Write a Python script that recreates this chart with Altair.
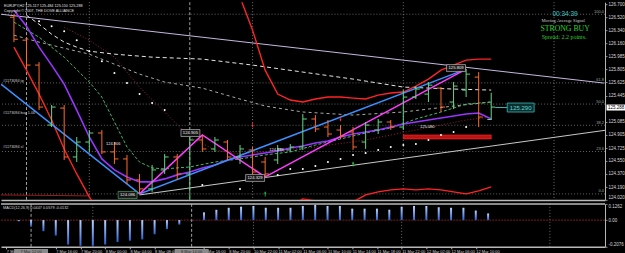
import altair as alt
import pandas as pd

# ---------------- data ----------------
bar_k = list(range(39))
bar_open = [126.521, 126.206, 125.864, 125.041, 125.274, 124.603, 124.808, 124.932, 124.672, 124.576,
            124.288, 124.165, 124.425, 124.603, 124.370, 124.836, 124.713, 124.808, 124.603, 124.699,
            124.534, 124.562, 124.699, 124.740, 125.124, 125.014, 124.973, 124.946, 124.808, 124.973,
            125.083, 125.014, 125.425, 125.466, 125.548, 125.357, 125.521, 125.699, 125.117]
bar_high = [126.562, 126.247, 125.905, 125.316, 125.316, 124.877, 124.973, 124.973, 124.808, 124.631,
            124.370, 124.493, 124.644, 124.644, 124.877, 124.905, 124.877, 124.836, 124.767, 124.740,
            124.603, 124.767, 124.781, 125.192, 125.178, 125.110, 125.041, 125.014, 125.083, 125.124,
            125.110, 125.521, 125.576, 125.631, 125.562, 125.631, 125.809, 125.768, 125.484]
bar_low = [126.179, 125.836, 125.247, 125.014, 124.562, 124.534, 124.672, 124.644, 124.507, 124.233,
           124.096, 124.124, 124.370, 124.288, 124.124, 124.672, 124.672, 124.562, 124.507, 124.357,
           124.329, 124.507, 124.672, 124.699, 124.946, 124.877, 124.850, 124.699, 124.713, 124.918,
           124.973, 124.973, 125.398, 125.357, 125.220, 125.261, 125.425, 125.014, 125.110]
bar_close = [126.220, 125.864, 125.288, 125.288, 124.603, 124.808, 124.932, 124.672, 124.576, 124.288,
             124.165, 124.425, 124.603, 124.370, 124.836, 124.713, 124.836, 124.603, 124.713, 124.397,
             124.370, 124.713, 124.740, 125.124, 124.987, 124.918, 124.891, 124.740, 125.041, 125.083,
             125.014, 125.425, 125.535, 125.589, 125.288, 125.576, 125.740, 125.151, 125.288]

macd_hist = [-0.010, -0.045, -0.086, -0.120, -0.190, -0.200, -0.200, -0.190, -0.170, -0.160,
             -0.150, -0.110, -0.070, -0.035, -0.005, 0.060, 0.080, 0.096, 0.104, 0.110,
             0.096, 0.096, 0.096, 0.110, 0.118, 0.110, 0.110, 0.089, 0.089, 0.089,
             0.081, 0.104, 0.110, 0.110, 0.100, 0.096, 0.096, 0.074, 0.052]

purple_ma = [126.617, 126.398, 126.110, 125.864, 125.603, 125.247, 124.877, 124.576, 124.425, 124.329,
             124.261, 124.261, 124.302, 124.357, 124.397, 124.452, 124.493, 124.562, 124.603, 124.631,
             124.658, 124.685, 124.726, 124.754, 124.795, 124.822, 124.877, 124.918, 124.946, 124.973,
             125.014, 125.055, 125.083, 125.110, 125.138, 125.165, 125.192, 125.206, 125.124]

white_ma_k = [1, 2, 3, 4, 5, 6, 8, 11, 15, 19, 23, 27, 31, 35, 38]
white_ma = [126.548, 126.425, 126.288, 126.179, 126.110, 126.055, 126.014, 125.973, 125.946, 125.864,
            125.768, 125.672, 125.562, 125.535, 125.521]

gray_ma_k = [0, 2, 4, 6, 8, 10, 12, 15, 18, 20, 23, 27, 31, 35, 38]
gray_ma = [126.274, 126.179, 126.096, 126.014, 125.877, 125.740, 125.631, 125.548, 125.398, 125.302,
           125.220, 125.178, 125.220, 125.302, 125.357]

green_ma_k = [0, 2, 4, 6, 7, 8, 9, 10, 11, 12, 14, 16, 18, 20, 22, 24, 26, 28, 30, 32, 34, 36, 38]
green_ma = [126.453, 126.247, 125.973, 125.631, 125.425, 125.083, 124.740, 124.534, 124.452, 124.439,
            124.466, 124.534, 124.576, 124.631, 124.672, 124.767, 124.850, 124.932, 125.000, 125.124,
            125.220, 125.330, 125.357]

darkred_ma_k = [4, 6, 8, 10, 12, 14, 16, 18, 20, 24, 28, 32, 36, 38]
darkred_ma = [126.384, 126.206, 125.973, 125.562, 125.220, 124.877, 124.699, 124.644, 124.672, 124.740,
              124.836, 124.973, 125.110, 125.151]

upper_band_k = list(range(17, 39))
upper_band = [127.275, 126.795, 126.343, 125.795, 125.466, 125.384, 125.357, 125.398, 125.425, 125.425,
              125.411, 125.398, 125.452, 125.480, 125.494, 125.576, 125.672, 125.795, 125.864, 125.932,
              125.946, 125.946]

lower_band_k = [0, 1, 2, 3, 4, 5, 6, 7, 10, 14, 18, 21, 22, 23, 24, 25, 26, 27, 28, 29, 30, 31, 32, 33,
                34, 35, 36, 37, 38]
lower_band = [126.110, 125.795, 125.466, 125.110, 124.713, 124.370, 124.055, 123.782, 123.371, 123.439,
              123.603, 123.782, 123.918, 124.028, 124.000, 123.945, 123.932, 123.987, 124.082, 124.124,
              124.151, 124.165, 124.151, 124.165, 124.151, 124.124, 124.096, 124.137, 124.192]

base_line_k = [-1.03, 6]
base_line = [124.082, 124.069]

sar_k = [2, 3, 4, 5, 6, 7, 8, 9, 10, 11, 12, 15, 18, 21, 22, 23, 24, 25, 26, 27, 28, 29, 30, 31, 32,
         33, 34, 35, 36]
sar = [126.466, 126.398, 126.329, 126.206, 126.055, 125.918, 125.754, 125.617, 125.466, 125.343,
       125.247, 124.219, 124.165, 124.357, 124.439, 124.439, 124.480, 124.534, 124.576, 124.631,
       124.658, 124.699, 124.740, 124.767, 124.781, 124.836, 124.905, 124.946, 125.014]

lav_k, lav_p = [-1.03, 46.98], [126.562, 125.617]
supp_k, supp_p = [10, 47.06], [124.082, 124.969]
blue_k, blue_p = [-1.03, 10, 36], [125.603, 124.096, 125.809]
zig_k, zig_p = [10, 15, 20, 36], [124.096, 124.905, 124.329, 125.809]

fib_labels = ["0.0", "23.6", "38.2", "50.0", "61.8", "100.0"]
fib_p = [124.096, 124.678, 125.038, 125.329, 125.620, 126.562]

order_labels = ["#1173094 tp", "#1173094 buy 1.00", "#1173094 sl"]
order_p = [125.617, 125.178, 124.699]

up_k, up_p = [14, 20, 27], [124.055, 124.096, 124.507]
dn_k, dn_p = [19, 26], [125.041, 125.124]

zone_k1, zone_k2, zone_p1, zone_p2 = [31], [38], [124.905], [124.850]

zl_k = [9.05, 14.05, 19.2, 35.2]
zl_p = [124.082, 124.932, 124.315, 125.823]
zl_text = ["124.096", "124.905", "124.329", "125.809"]
zl_edge = ["#58c070", "#d0d0d0", "#d0d0d0", "#d0d0d0"]

note_k = [7.9, 20.9, 32.9]
note_p = [124.781, 124.699, 125.014]
note_text = ["124.906", "124.838", "125.080"]

grid_k = [6, 19, 31, 43]
vline_k = [1, 14]
vline_labels = ["7 Mar 12:00", "8 Mar 14:00"]

y_ticks = [126.700, 126.520, 126.340, 126.160, 125.985, 125.805, 125.625, 125.445, 125.085,
           124.905, 124.725, 124.550, 124.370, 124.190, 124.020]
macd_ticks = [-0.2076, 0, 0.1262]

time_tick_k = [-1, 3, 5, 7, 9, 11, 15, 17, 19, 21, 23, 25, 27, 29, 31, 33, 35, 37]
time_tick_labels = ["7 Mar", "7 Mar 16:00", "7 Mar 20:00", "8 Mar 00:00", "8 Mar 04:00",
                    "8 Mar 08:00", "8 Mar 16:00", "8 Mar 20:00", "10 Mar 22:00", "11 Mar 02:00",
                    "11 Mar 06:00", "11 Mar 10:00", "11 Mar 14:00", "11 Mar 18:00", "11 Mar 22:00",
                    "12 Mar 02:00", "12 Mar 06:00", "12 Mar 10:00"]

title_text = "EURJPY,H2  125.117 125.484 125.110 125.288"
copyright_text = "Copyright \u00a9 2007, THE DOVE ALLIANCE"
signal_lines = ["00:34:39", "Moving Average Signal", "STRONG BUY", "Spread: 2.2 points."]
macd_label = "MACD(12,26,9) 0.0447 0.0579 -0.0132"
price_box_text = "125.290"
bid_text = "125.288"

# ---------------- styles ----------------
GREEN = "#62d886"
ORANGE = "#ff6a2c"
W = 605
H_MAIN = 198
H_MACD = 43

x_scale = alt.Scale(domain=[-1.03, 47.06], nice=False, zero=False)
y_scale = alt.Scale(domain=[124.014, 126.727], nice=False, zero=False)
x_axis_main = alt.Axis(labels=False, ticks=False, domain=True, grid=False,
                       domainColor="#b8b8b8", domainWidth=1.5)
y_axis_main = alt.Axis(orient="right", values=y_ticks, format=".3f", labelFontSize=4.5,
                       tickSize=2, labelPadding=1, grid=False, labelFlush=True,
                       domainColor="#b8b8b8", labelColor="#d8d8d8")


def X(f="k"):
    return alt.X(f"{f}:Q", scale=x_scale, axis=x_axis_main, title=None)


def Y(f="p"):
    return alt.Y(f"{f}:Q", scale=y_scale, axis=y_axis_main, title=None)


def line_layer(ks, ps, color, width=1.0, dash=None):
    df = pd.DataFrame({"k": ks, "p": ps})
    kw = dict(color=color, strokeWidth=width, clip=True)
    if dash:
        kw["strokeDash"] = dash
    return alt.Chart(df).mark_line(**kw).encode(x=X(), y=Y())


def ptext(s, x, y, size, color, font="Liberation Sans", align="left", weight="normal"):
    return alt.Chart(pd.DataFrame({"t": [s]})).mark_text(
        x=x, y=y, fontSize=size, color=color, font=font, align=align,
        baseline="middle", fontWeight=weight).encode(text="t:N")


# ---------------- main price panel ----------------
fib_df = pd.DataFrame({"p": fib_p, "label": fib_labels})
fib_rules = alt.Chart(fib_df).mark_rule(color="#7c7c7c", strokeDash=[1, 2], strokeWidth=0.8).encode(y=Y())
fib_text = alt.Chart(fib_df).mark_text(align="right", baseline="bottom", fontSize=4, color="#9aaa9a",
                                       dy=-0.5).encode(x=alt.value(604), y=Y(), text="label:N")

grid_df = pd.DataFrame({"k": grid_k})
vl_df = pd.DataFrame({"k": vline_k, "label": vline_labels})
grid_rules = alt.Chart(grid_df).mark_rule(color="#8c8c8c", strokeDash=[1, 2], strokeWidth=0.8).encode(x=X())
vl_rules = alt.Chart(vl_df).mark_rule(color="#c8c8c8", strokeDash=[3, 2], strokeWidth=0.8).encode(x=X())

order_df = pd.DataFrame({"p": order_p, "label": order_labels})
order_text = alt.Chart(order_df).mark_text(align="left", baseline="bottom", fontSize=3.8,
                                           color="#d0d0d0", dy=-0.5).encode(
    x=alt.value(2), y=Y(), text="label:N")

zone_df = pd.DataFrame({"k1": zone_k1, "k2": zone_k2, "p1": zone_p1, "p2": zone_p2})
zone = alt.Chart(zone_df).mark_rect(fill="#c01010", stroke="#ff3030", strokeWidth=0.6).encode(
    x=X("k1"), x2="k2:Q", y=Y("p1"), y2="p2:Q")

lines = [
    line_layer(lav_k, lav_p, "#c8b8e0", 1.0),
    line_layer(supp_k, supp_p, "#c4ccc4", 1.0),
    line_layer(darkred_ma_k, darkred_ma, "#982424", 1.0, [1, 2]),
    line_layer(white_ma_k, white_ma, "#e6e6e6", 1.0, [4, 3]),
    line_layer(gray_ma_k, gray_ma, "#a8a8a8", 1.0, [3, 3]),
    line_layer(green_ma_k, green_ma, "#46b866", 1.0, [3, 2]),
    line_layer(base_line_k, base_line, "#9a1c1c", 1.0),
    line_layer(upper_band_k, upper_band, "#ff2424", 1.4),
    line_layer(lower_band_k, lower_band, "#ff2424", 1.4),
    line_layer(bar_k, purple_ma, "#9a34ff", 1.6),
    line_layer(blue_k, blue_p, "#3b8fff", 1.5),
    line_layer(zig_k, zig_p, "#ff3cff", 1.5),
]

bar_df = pd.DataFrame({"k": bar_k, "open": bar_open, "high": bar_high, "low": bar_low, "close": bar_close})
bar_color = alt.condition("datum.close >= datum.open", alt.value(GREEN), alt.value(ORANGE))
hl = alt.Chart(bar_df).mark_rule(strokeWidth=1).encode(x=X(), y=Y("low"), y2="high:Q", color=bar_color)
open_t = alt.Chart(bar_df).mark_tick(orient="horizontal", size=4, thickness=1, xOffset=-2, opacity=1).encode(
    x=X(), y=Y("open"), color=bar_color)
close_t = alt.Chart(bar_df).mark_tick(orient="horizontal", size=4, thickness=1, xOffset=2, opacity=1).encode(
    x=X(), y=Y("close"), color=bar_color)

sar_df = pd.DataFrame({"k": sar_k, "p": sar})
sar_pts = alt.Chart(sar_df).mark_circle(size=4, color="#ffffff", opacity=1).encode(x=X(), y=Y())

up_df = pd.DataFrame({"k": up_k, "p": up_p})
dn_df = pd.DataFrame({"k": dn_k, "p": dn_p})
up_pts = alt.Chart(up_df).mark_point(shape="arrow", filled=True, size=28, color="#24d848", opacity=1).encode(
    x=X(), y=Y())
dn_pts = alt.Chart(dn_df).mark_point(shape="arrow", angle=180, filled=True, size=28, color="#ff3030",
                                     opacity=1).encode(x=X(), y=Y())

zl_df = pd.DataFrame({"k": zl_k, "p": zl_p, "t": zl_text, "edge": zl_edge})
zl_box = alt.Chart(zl_df).mark_tick(orient="horizontal", size=19, thickness=7, fill="#161616",
                                    strokeWidth=0.6, opacity=1).encode(
    x=X(), y=Y(), stroke=alt.Stroke("edge:N", scale=None))
zl_txt = alt.Chart(zl_df).mark_text(fontSize=4.2, color="#f0f0f0").encode(x=X(), y=Y(), text="t:N")

note_df = pd.DataFrame({"k": note_k, "p": note_p, "t": note_text})
note_txt = alt.Chart(note_df).mark_text(fontSize=4, color="#e8e8e8").encode(x=X(), y=Y(), text="t:N")

one = pd.DataFrame({"a": [0]})
pbox_line = alt.Chart(one).mark_rule(color="#3ab8b8", strokeWidth=1).encode(
    x=alt.value(495), x2=alt.value(507), y=alt.value(105.5))
pbox = alt.Chart(one).mark_rect(fill="#0c2e2e", stroke="#3ab8b8", strokeWidth=0.8).encode(
    x=alt.value(507), x2=alt.value(534), y=alt.value(101), y2=alt.value(110))
pbox_txt = ptext(price_box_text, 520.5, 105.5, 6, "#5cd6d6", align="center")

bid_box = alt.Chart(one).mark_rect(fill="#ffffff").encode(
    x=alt.value(606.5), x2=alt.value(625), y=alt.value(102.5), y2=alt.value(108.5))
bid_txt = ptext(bid_text, 608, 105.6, 4.5, "#000000")

ui = [
    ptext(title_text, 3, 3.5, 3.8, "#e0e0e0"),
    ptext(copyright_text, 3, 8.5, 3.8, "#e0e0e0"),
    ptext(signal_lines[0], 565, 11.5, 6.5, "#40c8c8", align="center"),
    ptext(signal_lines[1], 563, 18.8, 4.6, "#cfcfcf", font="Liberation Serif", align="center"),
    ptext(signal_lines[2], 565, 26.8, 7.8, "#2ed02e", font="Liberation Serif", align="center"),
    ptext(signal_lines[3], 564, 35.2, 6.0, "#2ed02e", font="Liberation Serif", align="center"),
]

main = alt.layer(
    fib_rules, grid_rules, vl_rules, zone, *lines, hl, open_t, close_t, sar_pts, up_pts, dn_pts,
    zl_box, zl_txt, note_txt, fib_text, order_text, pbox_line, pbox, pbox_txt, bid_box, bid_txt, *ui
).properties(width=W, height=H_MAIN)

# ---------------- MACD panel ----------------
labels_js = "[" + ",".join("'" + s + "'" for s in time_tick_labels) + "]"
ks_js = "[" + ",".join(str(k) for k in time_tick_k) + "]"
x_axis_macd = alt.Axis(values=time_tick_k, labelExpr=f"{labels_js}[indexof({ks_js}, datum.value)]",
                       labelAlign="left", labelFontSize=4, tickSize=2, labelPadding=0.5,
                       labelOverlap=False, labelFlush=False, labelBound=False, grid=False,
                       domainColor="#b8b8b8", domainWidth=1.5, labelColor="#d0d0d0", tickColor="#b0b0b0")
macd_scale = alt.Scale(domain=[-0.2076, 0.1262], nice=False, zero=False)
macd_axis = alt.Axis(orient="right", values=macd_ticks,
                     labelExpr="datum.value == 0 ? '0.00' : (datum.value < 0 ? '-' : '') + format(abs(datum.value), '.4f')",
                     labelFontSize=4.5, tickSize=2, labelPadding=1, labelFlush=True, grid=False,
                     domainColor="#b8b8b8", labelColor="#d8d8d8")


def XM(f="k"):
    return alt.X(f"{f}:Q", scale=x_scale, axis=x_axis_macd, title=None)


def YM(f="m"):
    return alt.Y(f"{f}:Q", scale=macd_scale, axis=macd_axis, title=None)


macd_df = pd.DataFrame({"k": bar_k, "m": macd_hist})
grad = alt.Gradient(gradient="linear",
                    stops=[alt.GradientStop(color="#b8d4ff", offset=0),
                           alt.GradientStop(color="#2f62d2", offset=1)],
                    x1=0, x2=0, y1=0, y2=1)
macd_bars = alt.Chart(macd_df).transform_calculate(base="0").mark_bar(width=2, fill=grad).encode(
    x=XM(), y=YM(), y2="base:Q")
zero_df = pd.DataFrame({"m": [0]})
macd_zero = alt.Chart(zero_df).mark_rule(color="#7c1e1e", strokeDash=[2, 1]).encode(y=YM())
macd_grid = alt.Chart(grid_df).mark_rule(color="#8c8c8c", strokeDash=[1, 2], strokeWidth=0.8).encode(x=XM())
macd_vl = alt.Chart(vl_df).mark_rule(color="#c8c8c8", strokeDash=[3, 2], strokeWidth=0.8).encode(x=XM())
macd_top = alt.Chart(one).mark_rule(color="#b8b8b8", strokeWidth=1.5).encode(
    x=alt.value(0), x2=alt.value(W), y=alt.value(0))
macd_txt = ptext(macd_label, 2, 4.5, 3.8, "#d8d8d8")
vl_box = alt.Chart(vl_df).mark_tick(orient="horizontal", size=34, thickness=6, fill="#8a8a8a",
                                    opacity=1).encode(x=XM(), y=alt.value(H_MACD + 5.2))
vl_box_txt = alt.Chart(vl_df).mark_text(fontSize=4, color="#2a2a2a").encode(
    x=XM(), y=alt.value(H_MACD + 5.4), text="label:N")

macd = alt.layer(macd_grid, macd_vl, macd_zero, macd_bars, macd_top, macd_txt, vl_box, vl_box_txt).properties(
    width=W, height=H_MACD)

chart = alt.vconcat(main, macd, spacing=2).properties(
    background="black", padding=0
).configure_view(stroke=None).configure_axis(labelFont="Liberation Sans")

chart.save("out.html", embed_options={"renderer": "svg", "actions": False})
